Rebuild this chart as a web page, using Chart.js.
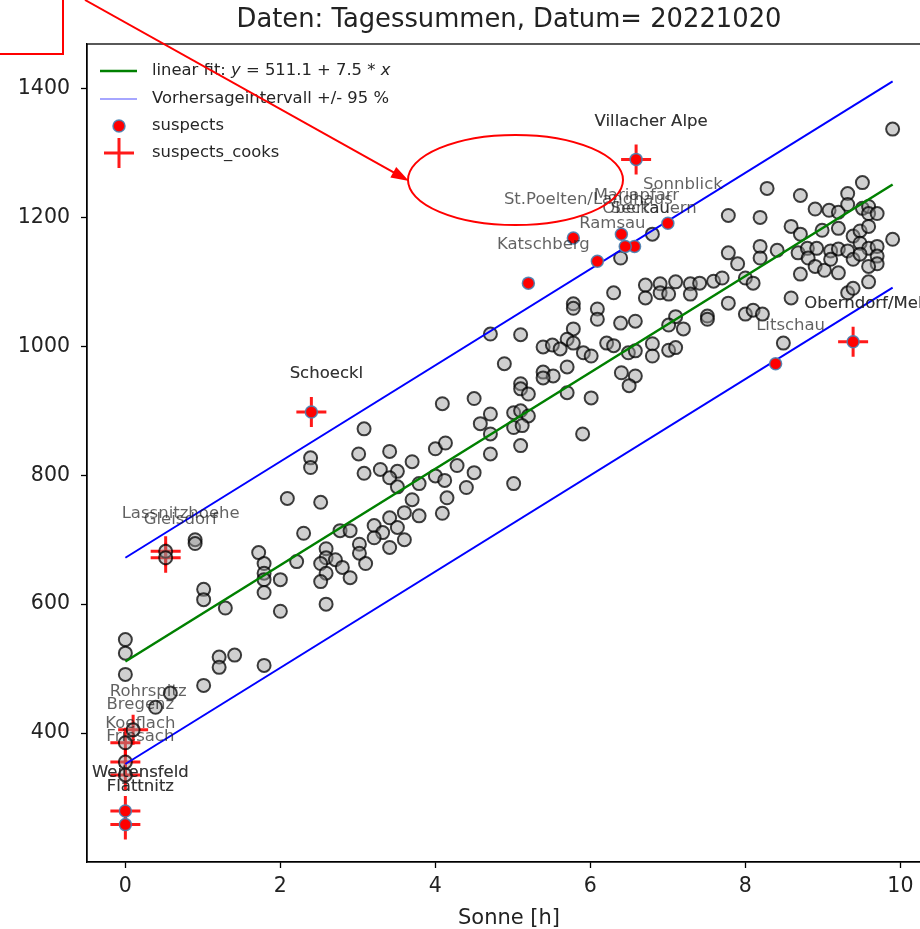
<!DOCTYPE html>
<html>
<head>
<meta charset="utf-8">
<script src="https://cdn.jsdelivr.net/npm/chart.js@4.4.0/dist/chart.umd.min.js"></script>
<style>
  html, body { margin: 0; padding: 0; overflow: hidden; background: #fff; }
  #wrap { width: 1018px; height: 929px; }
</style>
</head>
<body>
<div id="wrap"><canvas id="tagessummen" width="1018" height="929"></canvas></div>
<script>
// Stationen: Sonnenscheindauer [h] und Tagessumme
const sonneX = [
  4.09, 3.08, 2.39, 2.39, 3.01, 3.41, 3.70, 4.00, 3.08, 3.29, 3.51, 3.41, 3.51, 3.79, 4.00, 4.12, 4.13,
  2.09, 2.52, 3.70, 3.60, 3.79, 4.09, 3.41, 3.21, 3.51, 3.32, 3.21, 3.60, 3.41, 2.30, 2.77, 2.90, 3.02,
  3.02, 3.10, 2.59, 2.59, 2.71, 2.52, 2.80, 2.59, 2.52, 2.90, 2.59, 1.72, 1.79, 2.21, 1.79, 1.79, 2.00,
  1.79, 2.00, 0.90, 0.90, 1.01, 1.01, 1.29, 0.52, 0.52, 0.00, 0.00, 0.00, 1.21, 1.21, 1.41, 1.79, 4.15,
  1.01, 0.58, 0.39, 0.10, 0.00, 0.00, 0.00,
  6.39, 6.30, 5.78, 5.78, 6.09, 6.09, 6.39, 6.58, 5.78, 5.70, 5.78, 4.71, 5.10, 5.39, 5.51, 5.61, 5.91,
  6.01, 6.21, 6.30, 6.49, 6.58, 4.89, 5.39, 5.52, 5.39, 5.70, 5.10, 5.10, 5.20, 5.70, 6.01, 6.40, 6.58,
  6.50, 4.50, 4.71, 4.58, 4.71, 5.01, 5.10, 5.20, 5.01, 5.12, 5.90, 5.10, 4.71, 5.01, 4.28, 4.50, 4.40,
  9.90, 6.80, 8.28, 8.71, 9.51, 9.32, 7.78, 8.19, 8.90, 9.08, 9.20, 9.32, 9.51, 9.59, 9.59, 8.59, 8.71,
  8.99, 9.20, 9.39, 9.48, 9.59, 9.90, 7.78, 7.90, 8.19, 8.19, 8.41, 8.68, 8.80, 8.92, 8.81, 9.10, 9.20,
  9.32, 9.39, 9.48, 9.59, 9.70, 9.48, 9.70, 9.70, 9.59, 8.90, 9.02, 9.20, 9.10, 8.71, 9.59, 9.32, 9.39,
  8.59, 6.71, 6.71, 6.90, 6.90, 7.01, 7.10, 7.29, 7.29, 7.41, 7.59, 7.70, 8.00, 8.10, 7.78, 8.00, 8.10,
  8.22, 7.51, 7.51, 7.10, 7.01, 7.20, 6.80, 6.80, 7.01, 7.10, 8.49, 9.70
];
const summeY = [
  911, 872, 827, 812, 833, 837, 821, 841, 803, 809, 806, 796, 782, 787, 799, 792, 850,
  764, 758, 762, 742, 737, 741, 734, 722, 719, 711, 703, 700, 688, 710, 714, 714, 693,
  679, 663, 686, 672, 669, 663, 657, 648, 635, 641, 600, 680, 663, 666, 648, 638, 638,
  618, 589, 700, 694, 623, 607, 594, 682, 672, 545, 524, 491, 518, 502, 521, 505, 765,
  474, 462, 440, 405, 385, 355, 335,
  1137, 1083, 1066, 1059, 1058, 1042, 1036, 1039, 1027, 1011, 1005, 1019, 1018, 999, 1002, 996, 990,
  985, 1005, 1001, 990, 993, 973, 960, 954, 951, 968, 942, 934, 926, 928, 920, 959, 954,
  939, 919, 895, 880, 864, 897, 900, 892, 874, 877, 864, 846, 833, 787, 815, 804, 781,
  1337, 1174, 1245, 1234, 1254, 1237, 1203, 1200, 1213, 1211, 1208, 1220, 1214, 1217, 1206, 1186, 1174,
  1180, 1183, 1171, 1179, 1186, 1166, 1145, 1128, 1155, 1137, 1149, 1145, 1152, 1152, 1137, 1148, 1151,
  1148, 1135, 1160, 1152, 1155, 1143, 1140, 1128, 1124, 1124, 1118, 1114, 1135, 1112, 1100, 1083, 1090,
  1075, 1095, 1075, 1097, 1083, 1081, 1100, 1097, 1081, 1098, 1101, 1106, 1106, 1098, 1067, 1050, 1056,
  1050, 1047, 1042, 1046, 1033, 1027, 1004, 985, 994, 998, 1005, 1206
];

// suspects: outside the prediction interval
const suspectNames = ['Villacher Alpe', 'Schoeckl', 'Katschberg', 'St.Poelten/Landhaus', 'Ramsau',
  'Mariapfarr', 'Obertauern', 'Seckau', 'Sonnblick', 'Litschau', 'Oberndorf/Melk', 'Weitensfeld', 'Flattnitz'];
const suspectX = [6.59, 2.40, 5.20, 5.78, 6.09, 6.40, 6.57, 6.45, 7.00, 8.39, 9.39, 0.00, 0.00];
const suspectY = [1290, 898, 1098, 1168, 1132, 1174, 1155, 1155, 1191, 973, 1007, 279, 258];

// suspects_cooks: large Cook's distance
const cooksNames = ['Villacher Alpe', 'Schoeckl', 'Lassnitzhoehe', 'Gleisdorf', 'Oberndorf/Melk', 'Rohrspitz',
  'Bregenz', 'Koeflach', 'Friesach', 'Weitensfeld', 'Flattnitz'];
const cooksX = [6.59, 2.40, 0.52, 0.52, 9.39, 0.10, 0.00, 0.00, 0.00, 0.00, 0.00];
const cooksY = [1290, 898, 682, 672, 1007, 405, 385, 355, 335, 279, 258];

// fit line and prediction interval (end points)
const fitX = [0, 9.9];
const fitY = [511.1, 1251];
const upperY = [672, 1411];
const lowerY = [352, 1091];

const xTicks = [0, 2, 4, 6, 8, 10];
const yTicks = [400, 600, 800, 1000, 1200, 1400];

const FONT = '"DejaVu Sans", sans-serif';
Chart.defaults.font.family = FONT;

const toPoints = (xs, ys) => xs.map((v, i) => ({x: v, y: ys[i]}));

// labels, frame, title, legend and the red marks drawn on top of the screenshot
const overlay = {
    id: 'overlay',
    afterDatasetsDraw(chart) {
        const {ctx, chartArea: a, scales: {x, y}} = chart;
        ctx.save();
        ctx.strokeStyle = '#000';
        ctx.lineWidth = 1.3;
        ctx.strokeRect(a.left, a.top, a.right - a.left, a.bottom - a.top);

        ctx.font = '16.5px ' + FONT;
        ctx.textAlign = 'center';
        ctx.textBaseline = 'middle';
        ctx.fillStyle = 'rgba(30,30,30,0.7)';
        const label = (names, xs, ys) => names.forEach((n, i) => {
            ctx.fillText(n, x.getPixelForValue(xs[i]) + 15, y.getPixelForValue(ys[i]) - 38);
        });
        label(suspectNames, suspectX, suspectY);
        label(cooksNames, cooksX, cooksY);
        ctx.restore();
    },
    afterDraw(chart) {
        const {ctx, chartArea: a} = chart;
        ctx.save();
        // title, centred over the axes
        ctx.fillStyle = '#222';
        ctx.font = '25.8px ' + FONT;
        ctx.textAlign = 'center';
        ctx.textBaseline = 'middle';
        ctx.fillText('Daten: Tagessummen, Datum= 20221020', (a.left + a.right) / 2, 20);

        // legend
        const lx = a.left + 13, tx = a.left + 65;
        const rows = [a.top + 27, a.top + 55, a.top + 82, a.top + 109];
        ctx.lineWidth = 2.5;
        ctx.strokeStyle = '#008000';
        ctx.beginPath(); ctx.moveTo(lx, rows[0]); ctx.lineTo(lx + 37, rows[0]); ctx.stroke();
        ctx.lineWidth = 2;
        ctx.strokeStyle = 'rgba(0,0,255,0.35)';
        ctx.beginPath(); ctx.moveTo(lx, rows[1]); ctx.lineTo(lx + 37, rows[1]); ctx.stroke();
        ctx.fillStyle = '#ff0000';
        ctx.strokeStyle = 'rgba(70,130,180,0.9)';
        ctx.lineWidth = 1.5;
        ctx.beginPath(); ctx.arc(lx + 19, rows[2], 6, 0, Math.PI * 2); ctx.fill(); ctx.stroke();
        ctx.strokeStyle = 'rgba(255,0,0,0.9)';
        ctx.lineWidth = 3;
        ctx.beginPath();
        ctx.moveTo(lx + 4, rows[3]); ctx.lineTo(lx + 34, rows[3]);
        ctx.moveTo(lx + 19, rows[3] - 15); ctx.lineTo(lx + 19, rows[3] + 15);
        ctx.stroke();

        ctx.fillStyle = '#262626';
        ctx.textAlign = 'left';
        const parts = [['linear fit: ', false], ['y', true], [' = 511.1 + 7.5 * ', false], ['x', true]];
        let px = tx;
        parts.forEach(([s, it]) => {
            ctx.font = (it ? 'italic ' : '') + '16.4px ' + FONT;
            ctx.fillText(s, px, rows[0]);
            px += ctx.measureText(s).width;
        });
        ctx.font = '16.4px ' + FONT;
        ctx.fillText('Vorhersageintervall +/- 95 %', tx, rows[1]);
        ctx.fillText('suspects', tx, rows[2]);
        ctx.fillText('suspects_cooks', tx, rows[3]);

        // red annotation
        ctx.strokeStyle = '#ff0000';
        ctx.fillStyle = '#ff0000';
        ctx.lineWidth = 2;
        ctx.strokeRect(-5, -5, 68, 59);
        const x0 = 85, y0 = 0, x1 = 409, y1 = 181;
        const ang = Math.atan2(y1 - y0, x1 - x0);
        ctx.beginPath(); ctx.moveTo(x0, y0);
        ctx.lineTo(x1 - 14 * Math.cos(ang), y1 - 14 * Math.sin(ang)); ctx.stroke();
        ctx.beginPath();
        ctx.moveTo(x1, y1);
        ctx.lineTo(x1 - 18 * Math.cos(ang) + 6 * Math.sin(ang), y1 - 18 * Math.sin(ang) - 6 * Math.cos(ang));
        ctx.lineTo(x1 - 18 * Math.cos(ang) - 6 * Math.sin(ang), y1 - 18 * Math.sin(ang) + 6 * Math.cos(ang));
        ctx.closePath(); ctx.fill();
        ctx.beginPath();
        ctx.ellipse(515.5, 180, 107.5, 45, 0, 0, Math.PI * 2);
        ctx.stroke();
        ctx.restore();
    }
};

const chartdata = {
    datasets: [
        {
            label: 'Daten',
            data: toPoints(sonneX, summeY),
            pointRadius: 6.5,
            pointBackgroundColor: 'rgba(150,150,150,0.45)',
            pointBorderColor: 'rgba(0,0,0,0.75)',
            pointBorderWidth: 2,
            order: 3
        },
        {
            label: 'linear fit',
            data: toPoints(fitX, fitY),
            showLine: true,
            borderColor: '#008000',
            borderWidth: 2.5,
            pointRadius: 0,
            order: 2
        },
        {
            label: 'upper',
            data: toPoints(fitX, upperY),
            showLine: true,
            borderColor: '#0000ff',
            borderWidth: 2,
            pointRadius: 0,
            order: 2
        },
        {
            label: 'lower',
            data: toPoints(fitX, lowerY),
            showLine: true,
            borderColor: '#0000ff',
            borderWidth: 2,
            pointRadius: 0,
            order: 2
        },
        {
            label: 'suspects',
            data: toPoints(suspectX, suspectY),
            pointRadius: 6,
            pointBackgroundColor: '#ff0000',
            pointBorderColor: 'rgba(70,130,180,0.9)',
            pointBorderWidth: 1.5,
            order: 1
        },
        {
            label: 'suspects_cooks',
            data: toPoints(cooksX, cooksY),
            pointStyle: 'cross',
            pointRadius: 15,
            pointBorderColor: 'rgba(255,0,0,0.9)',
            pointBorderWidth: 3,
            order: 4
        }
    ]
};

const chartconfig = {
    type: 'scatter',
    data: chartdata,
    options: {
        responsive: false,
        animation: false,
        layout: { padding: { left: 0, top: 44, bottom: 0, right: 87 } },
        plugins: {
            legend: { display: false },
            tooltip: { enabled: false },
            title: { display: false }
        },
        scales: {
            x: {
                type: 'linear',
                min: -0.495,
                max: 10.395,
                afterBuildTicks: (scale) => { scale.ticks = xTicks.map(v => ({value: v})); },
                afterFit: (scale) => { scale.height = 67; },
                ticks: { color: '#222', font: { size: 20.5 }, padding: 6, callback: v => String(v), maxRotation: 0 },
                grid: { drawOnChartArea: false, drawTicks: true, tickLength: 6, tickColor: '#000', tickWidth: 1.3 },
                border: { display: true, color: '#000', width: 1.3 },
                title: { display: true, text: 'Sonne [h]', color: '#222', font: { size: 21, lineHeight: 1 }, padding: 0 }
            },
            y: {
                type: 'linear',
                min: 200,
                max: 1469,
                afterBuildTicks: (scale) => { scale.ticks = yTicks.map(v => ({value: v})); },
                afterFit: (scale) => { scale.width = 87; },
                ticks: { color: '#222', font: { size: 20.5 }, padding: 11, callback: v => String(v) },
                grid: { drawOnChartArea: false, drawTicks: true, tickLength: 6, tickColor: '#000', tickWidth: 1.3 },
                border: { display: true, color: '#000', width: 1.3 }
            }
        }
    },
    plugins: [overlay]
};

const canvas = document.getElementById('tagessummen');
if (canvas) {
    new Chart(canvas, chartconfig);
}
</script>
</body>
</html>
